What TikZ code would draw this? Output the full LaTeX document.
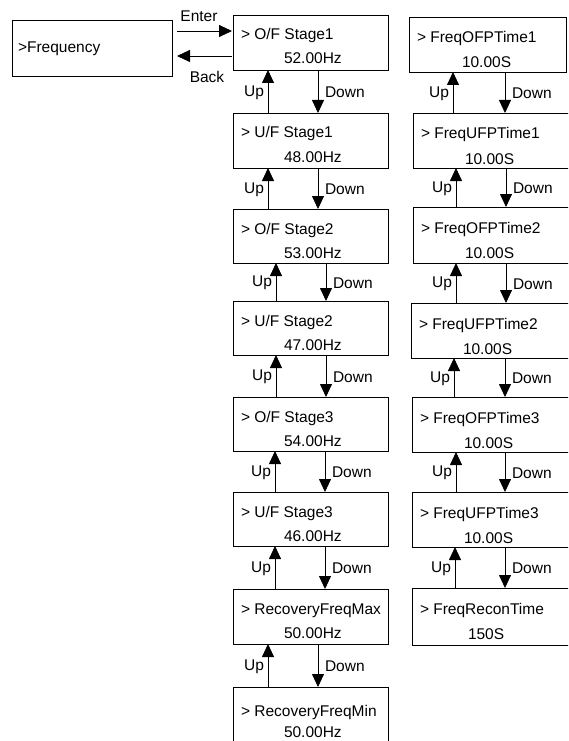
\documentclass[tikz,border=0pt]{standalone}
\usepackage{fontspec}
\setmainfont{Liberation Sans}
\usetikzlibrary{arrows.meta,calc}
\tikzset{
  box/.style={draw, line width=0.8pt, anchor=north west, inner sep=0pt, outer sep=0pt},
  txt/.style={inner sep=0pt, outer sep=0pt, font=\fontsize{15.5}{18}\selectfont},
  arr/.style={line width=0.8pt, -{Triangle[width=12pt,length=13pt]}},
}
% name, left, top, width, height, line1, line2, value x offset
\newcommand\scrbox[8]{%
  \node[box, minimum width=#4pt, minimum height=#5pt] (#1) at (#2,#3) {};
  \node[txt, anchor=base west] (#1a) at ($(#1.north west)+(\xa,\ya)$) {#6};
  \node[txt, anchor=base west] (#1b) at ($(#1.north west)+(#8,\yb)$) {#7};
}
% upper, lower, up x, down x
\newcommand\udpair[4]{%
  \coordinate (#1u) at (#3,0);
  \coordinate (#1d) at (#4,0);
  \draw[arr] (#2.north -| #1u) -- (#1.south -| #1u)
     node[txt, pos=0.5, anchor=east, xshift=-4pt, yshift=-1pt] (#1up) {Up};
  \draw[arr] (#1.south -| #1d) -- (#2.north -| #1d)
     node[txt, pos=0.5, anchor=west, xshift=7pt, yshift=-1pt] (#1dn) {Down};
}
\begin{document}
\begin{tikzpicture}[x=1pt,y=-1pt]
\useasboundingbox (0,0) rectangle (568,741);
\clip (0,0) rectangle (568,741);

% Frequency box
\node[box, minimum width=160pt, minimum height=56pt] (f) at (12,20) {};
\node[txt, anchor=base west] (fa) at ($(f.north west)+(6,33)$) {>Frequency};

% middle column
\def\xa{8}\def\ya{25}\def\yb{49}
\scrbox{m1}{233}{15}{155}{55}{> O/F Stage1}{52.00Hz}{51}
\scrbox{m2}{233}{113}{155}{55}{> U/F Stage1}{48.00Hz}{51}
\scrbox{m3}{233}{209}{155}{54}{> O/F Stage2}{53.00Hz}{51}
\scrbox{m4}{233}{301}{155}{54}{> U/F Stage2}{47.00Hz}{51}
\scrbox{m5}{233}{397}{155}{54}{> O/F Stage3}{54.00Hz}{51}
\scrbox{m6}{233}{492}{155}{54}{> U/F Stage3}{46.00Hz}{51}
\scrbox{m7}{233}{589}{155}{55}{> RecoveryFreqMax}{50.00Hz}{51}
\def\ya{29}\def\yb{50}
\scrbox{m8}{233}{687}{155}{80}{> RecoveryFreqMin}{50.00Hz}{51}

% right column
\def\xa{8}\def\ya{26}\def\yb{51}
\scrbox{r1}{409}{17}{157}{55}{> FreqOFPTime1}{10.00S}{53}
\scrbox{r2}{413}{113}{160}{55}{> FreqUFPTime1}{10.00S}{52}
\scrbox{r3}{413}{207}{160}{56}{> FreqOFPTime2}{10.00S}{52}
\scrbox{r4}{411}{303}{160}{55}{> FreqUFPTime2}{10.00S}{52}
\scrbox{r5}{412}{397}{160}{55}{> FreqOFPTime3}{10.00S}{52}
\scrbox{r6}{412}{492}{160}{55}{> FreqUFPTime3}{10.00S}{52}
\scrbox{r7}{412}{588}{160}{57}{> FreqReconTime}{150S}{56}

% Enter / Back
\coordinate (ey) at (0,31);
\coordinate (by) at (0,56);
\draw[arr, shorten <=5pt, shorten >=1pt] (f.east |- ey) -- (m1.west |- ey);
\draw[arr, shorten <=1pt, shorten >=5pt] (m1.west |- by) -- (f.east |- by);
\node[txt] (enter) at (199,16) {Enter};
\node[txt] (back) at (207,77) {Back};

% middle column arrows
\udpair{m1}{m2}{268}{318}
\udpair{m2}{m3}{268}{318}
\udpair{m3}{m4}{276}{326}
\udpair{m4}{m5}{276}{326}
\udpair{m5}{m6}{275}{325}
\udpair{m6}{m7}{275}{325}
\udpair{m7}{m8}{268}{318}

% right column arrows
\udpair{r1}{r2}{453}{505}
\udpair{r2}{r3}{456}{506}
\udpair{r3}{r4}{456}{506}
\udpair{r4}{r5}{454}{505}
\udpair{r5}{r6}{456}{505}
\udpair{r6}{r7}{455}{505}
\end{tikzpicture}
\end{document}
